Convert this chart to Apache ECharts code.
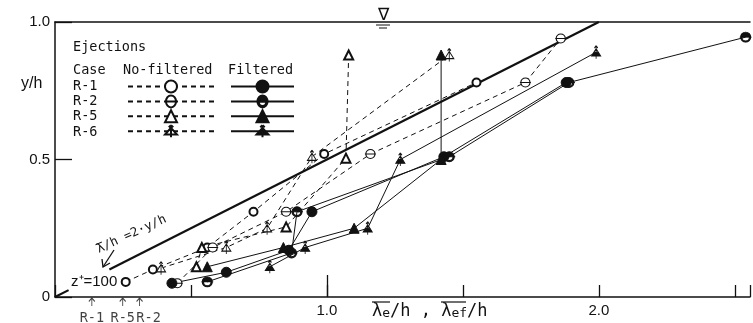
<!DOCTYPE html>
<html><head><meta charset="utf-8">
<script src="https://cdn.jsdelivr.net/npm/echarts@6/dist/echarts.min.js"></script>
<style>html,body{margin:0;padding:0;background:#fff}#c{width:753px;height:323px}</style>
</head><body><div id="c"></div>
<script>
// ---- data : [lambda/h, y/h] ----
const r1NoFilt = [[0.26,0.055],[0.36,0.10],[0.56,0.18],[0.73,0.31],[0.99,0.52],[1.55,0.78]];
const r2NoFilt = [[0.45,0.05],[0.58,0.18],[0.85,0.31],[1.16,0.52],[1.73,0.78],[1.86,0.94]];
const r5NoFilt = [[0.52,0.11],[0.54,0.18],[0.85,0.255],[1.07,0.505],[1.08,0.88]];
const r6NoFilt = [[0.39,0.105],[0.63,0.18],[0.78,0.25],[0.945,0.51],[1.45,0.88]];
const r1Filt = [[0.43,0.05],[0.63,0.09],[0.86,0.17],[0.945,0.31],[1.43,0.51],[1.88,0.78]];
const r2Filt = [[0.56,0.055],[0.87,0.16],[0.89,0.31],[1.45,0.51],[1.89,0.78],[2.54,0.945]];
const r5Filt = [[0.56,0.11],[0.84,0.18],[1.10,0.25],[1.42,0.50],[1.42,0.88]];
const r6Filt = [[0.79,0.11],[0.92,0.18],[1.15,0.25],[1.27,0.50],[1.99,0.89]];
const refLineLow = [[0,0],[0.05,0.025]];
const refLineMain = [[0.2,0.1],[2.0,1.0]];
const caseMarkNames = ['R-1','R-5','R-2'];
const caseMarkX = [0.1355,0.249,0.311];
const caseNames = ['R-1','R-2','R-5','R-6'];
const xTickValues = [1,2];
const xTickText = ['1.0','2.0'];
const yTickValues = [0,0.5,1];
const yTickText = ['0','0.5','1.0'];

// ---- styling ----
const BLACK = '#111';
const MONO = "'DejaVu Sans Mono', 'Liberation Mono', monospace";
const SANS = "'Liberation Sans', Arial, sans-serif";
const xMax = 2.556;

const symOpenBar = 'path://M-1 0 A1 1 0 1 1 1 0 A1 1 0 1 1 -1 0 Z M-1.2 0 L1.2 0';
const symHalfCircle = 'path://M-1 0 A1 1 0 0 1 1 0 Z M1 0 A1 1 0 0 1 -1 0 L-0.75 0 A0.75 0.75 0 0 0 0.75 0 Z M-1.2 0 L1.2 0';
const symTriArrowOpen = 'path://M0 0 L0.8 1.3 L-0.8 1.3 Z M0 -0.5 L0 1.8 M-0.3 -0.1 L0 -0.5 M0 -0.5 L0.3 -0.1';
const symTriArrowHalf = 'path://M-0.4 0.65 L0.4 0.65 L0.8 1.3 L-0.8 1.3 Z M0 0 L0.8 1.3 M-0.8 1.3 L0 0 M0 -0.5 L0 1.8 M-0.3 -0.1 L0 -0.5 M0 -0.5 L0.3 -0.1';
const symUpArrow = 'path://M0 0 L0 1 M-0.4 0.45 L0 0 M0 0 L0.4 0.45';

function ser(name, data, symbol, size, dashed, fill) {
  return {
    name, type:'line', data, symbol, symbolSize:size, symbolKeepAspect:false,
    lineStyle:{color:BLACK, width:1, type: dashed ? [5,4] : 'solid'},
    itemStyle:{color:fill, borderColor:BLACK, borderWidth:1},
    emphasis:{disabled:true}, z:3
  };
}

const series = [
  ser('R-1 No-filtered', r1NoFilt, 'emptyCircle', 8, true, BLACK),
  ser('R-2 No-filtered', r2NoFilt, symOpenBar, [11,9], true, '#fff'),
  ser('R-5 No-filtered', r5NoFilt, 'emptyTriangle', 9, true, BLACK),
  ser('R-6 No-filtered', r6NoFilt, symTriArrowOpen, [9,13], true, '#fff'),
  ser('R-1 Filtered', r1Filt, 'circle', 10, false, BLACK),
  ser('R-2 Filtered', r2Filt, symHalfCircle, [12,10], false, BLACK),
  ser('R-5 Filtered', r5Filt, 'triangle', 10, false, BLACK),
  ser('R-6 Filtered', r6Filt, symTriArrowHalf, [9,13], false, BLACK),
  {name:'ref-low', type:'line', data:refLineLow, symbol:'none', lineStyle:{color:BLACK,width:2.2}, z:2,
   markLine:{silent:true, symbol:'none', label:{show:false}, lineStyle:{color:BLACK,width:1.3,type:'solid'},
     data:[[{coord:[1,0]},{coord:[1,0.08]}]]}},
  {name:'ref-main', type:'line', data:refLineMain, symbol:'none', lineStyle:{color:BLACK,width:2.2}, z:2},
  {name:'case-marks', type:'scatter', clip:false, symbol:symUpArrow, symbolSize:[6,8],
   itemStyle:{color:'rgba(0,0,0,0)', borderColor:BLACK, borderWidth:1},
   data: caseMarkNames.map((n,i)=>({name:n, value:[caseMarkX[i], -0.018],
     label:{offset: i===2 ? [9,0] : [0,0]}})),
   label:{show:true, position:'bottom', distance:5, formatter:p=>p.name,
     fontFamily:MONO, fontSize:13.5, color:BLACK}, z:3}
];

const legendBase = {orient:'vertical', itemHeight:15, itemGap:0.4, padding:0,
  selectedMode:false, formatter:()=> '', textStyle:{fontSize:1}, symbolKeepAspect:true};

const option = {
  backgroundColor:'#fff',
  animation:false,
  grid:{left:55, right:0, top:22, bottom:26},
  legend:[
    Object.assign({}, legendBase, {left:127, top:79, itemWidth:86,
      data: caseNames.map(c=>c+' No-filtered')}),
    Object.assign({}, legendBase, {left:230, top:79, itemWidth:63,
      data: caseNames.map(c=>c+' Filtered')})
  ],
  xAxis:[
    {type:'value', min:0, max:xMax, interval:0.5,
     axisLine:{lineStyle:{color:BLACK, width:1.5}},
     axisTick:{inside:true, length:12, lineStyle:{color:BLACK, width:1.3}},
     axisLabel:{margin:6, color:BLACK, fontFamily:SANS, fontSize:15,
       formatter:v=>{const i=xTickValues.indexOf(Math.round(v*1000)/1000); return i<0?'':xTickText[i];}},
     splitLine:{show:false}},
    {type:'value', position:'top', min:0, max:xMax,
     axisLine:{show:true, lineStyle:{color:BLACK, width:1.5}},
     axisTick:{show:false}, axisLabel:{show:false}, splitLine:{show:false}}
  ],
  yAxis:{type:'value', min:0, max:1, interval:0.5,
    axisLine:{show:true, lineStyle:{color:BLACK, width:1.5}},
    axisTick:{inside:true, length:17, lineStyle:{color:BLACK, width:1.3}},
    axisLabel:{margin:5, color:BLACK, fontFamily:SANS, fontSize:15,
      formatter:v=>{const i=yTickValues.indexOf(Math.round(v*1000)/1000); return i<0?'':yTickText[i];}},
    splitLine:{show:false}},
  series,
  graphic:[
    {type:'text', left:73, top:40, style:{text:'Ejections', font:'13.5px '+MONO, fill:BLACK}},
    {type:'text', left:73, top:63, style:{text:'Case', font:'13.5px '+MONO, fill:BLACK}},
    {type:'text', left:123, top:63, style:{text:'No-filtered', font:'13.5px '+MONO, fill:BLACK}},
    {type:'text', left:228, top:63, style:{text:'Filtered', font:'13.5px '+MONO, fill:BLACK}},
    ...caseNames.map((c,i)=>({type:'text', left:73, top:79+15.4*i, style:{text:c, font:'13.5px '+MONO, fill:BLACK}})),
    {type:'text', left:21, top:76, style:{text:'y/h', font:'16px '+SANS, fill:BLACK}},
    {type:'text', left:71, top:274, style:{text:'z\u207A=100', font:'15px '+SANS, fill:BLACK}},
    {type:'group', x:100, y:256, rotation:0.43, children:[
      {type:'text', x:0, y:0, style:{text:'\u03BB/h =2\u00B7y/h', font:'12.5px '+MONO, fill:BLACK, align:'left', verticalAlign:'bottom'}},
      {type:'line', shape:{x1:0.5, y1:-12, x2:7.5, y2:-12}, style:{stroke:BLACK, lineWidth:1}}
    ]},
    {type:'line', shape:{x1:114,y1:250,x2:103,y2:267}, style:{stroke:BLACK, lineWidth:1.3}},
    {type:'polyline', shape:{points:[[102,259],[103,267],[110,263]]}, style:{stroke:BLACK, lineWidth:1.3, fill:null}},
    {type:'text', x:383, y:15, style:{text:'\u2207', font:'17px '+SANS, fill:BLACK, align:'center', verticalAlign:'middle'}},
    {type:'line', shape:{x1:376,y1:25,x2:390,y2:25}, style:{stroke:BLACK, lineWidth:1}},
    {type:'line', shape:{x1:379,y1:28,x2:387,y2:28}, style:{stroke:BLACK, lineWidth:1}},
    {type:'text', left:372, top:303, style:{
      text:'{b|\u03BB}{s|e}{b|/h , }{b|\u03BB}{s|ef}{b|/h}',
      rich:{b:{font:'17px '+MONO, fill:BLACK}, s:{font:'13px '+MONO, fill:BLACK, verticalAlign:'bottom'}}}},
    {type:'line', shape:{x1:372, y1:302, x2:390, y2:302}, style:{stroke:BLACK, lineWidth:1.2}},
    {type:'line', shape:{x1:441, y1:302, x2:466, y2:302}, style:{stroke:BLACK, lineWidth:1.2}}
  ]
};
const chart = echarts.init(document.getElementById('c'));
chart.setOption(option);
</script></body></html>
